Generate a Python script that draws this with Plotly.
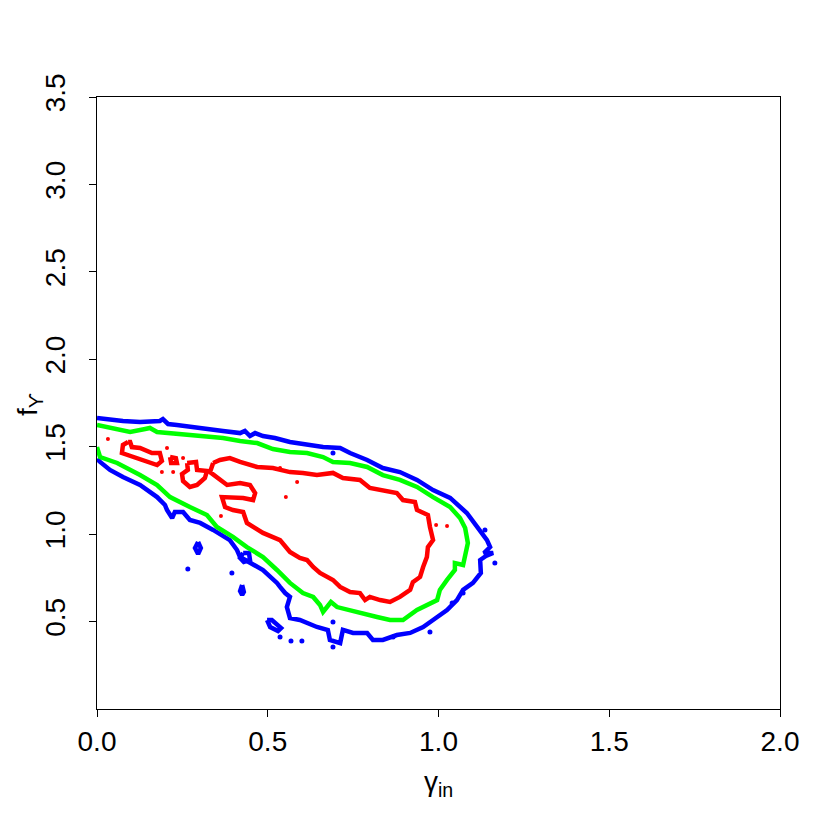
import plotly.graph_objects as go

# ---------------- data ----------------
x_ticks = [0.0, 0.5, 1.0, 1.5, 2.0]
x_tick_labels = ["0.0", "0.5", "1.0", "1.5", "2.0"]
y_ticks = [0.5, 1.0, 1.5, 2.0, 2.5, 3.0, 3.5]
y_tick_labels = ["0.5", "1.0", "1.5", "2.0", "2.5", "3.0", "3.5"]

# outer (blue) contour
blue_x = [0.000, 0.038, 0.076, 0.126, 0.155, 0.184, 0.193, 0.208, 0.234, 0.272, 0.322, 0.369,
          0.419, 0.433, 0.448, 0.463, 0.486, 0.521, 0.565, 0.609, 0.662, 0.712, 0.741, 0.791,
          0.837, 0.887, 0.937, 0.984, 1.034, 1.083, 1.113, 1.142, 1.151, 1.133, 1.160, 1.139,
          1.122, 1.124, 1.101, 1.072, 1.054, 1.025, 0.984, 0.955, 0.917, 0.878, 0.837, 0.808,
          0.791, 0.750, 0.720, 0.712, 0.682, 0.676, 0.644, 0.615, 0.594, 0.565, 0.556, 0.565,
          0.551, 0.536, 0.527, 0.486, 0.439, 0.419, 0.410, 0.389, 0.340, 0.302, 0.272, 0.252,
          0.228, 0.220, 0.205, 0.199, 0.176, 0.126, 0.076, 0.038, 0.009, 0.000]
blue_y = [1.664, 1.653, 1.647, 1.641, 1.641, 1.647, 1.658, 1.630, 1.624, 1.613, 1.601, 1.590,
          1.578, 1.590, 1.561, 1.578, 1.561, 1.550, 1.527, 1.516, 1.498, 1.493, 1.464, 1.424,
          1.378, 1.355, 1.310, 1.252, 1.207, 1.121, 1.041, 0.966, 0.926, 0.892, 0.892, 0.875,
          0.852, 0.778, 0.721, 0.681, 0.623, 0.566, 0.509, 0.469, 0.435, 0.423, 0.395, 0.395,
          0.435, 0.435, 0.452, 0.377, 0.395, 0.452, 0.469, 0.492, 0.509, 0.520, 0.583, 0.641,
          0.663, 0.698, 0.721, 0.795, 0.852, 0.869, 0.909, 0.966, 1.024, 1.064, 1.081, 1.127,
          1.127, 1.092, 1.138, 1.167, 1.212, 1.281, 1.327, 1.367, 1.413, 1.430]

# small blue islands (separated by None)
blue_isl_x = [0.296, 0.304, 0.296, 0.287, 0.296, None,
              0.428, 0.445, 0.448, 0.430, 0.419, 0.428, None,
              0.425, 0.430, 0.425, 0.419, 0.425, None,
              0.498, 0.512, 0.539, 0.530, 0.507, 0.498]
blue_isl_y = [0.955, 0.921, 0.886, 0.921, 0.955, None,
              0.892, 0.892, 0.852, 0.841, 0.864, 0.892, None,
              0.709, 0.669, 0.652, 0.675, 0.709, None,
              0.509, 0.509, 0.463, 0.446, 0.469, 0.509]
blue_dot_x = [0.266, 0.395, 0.536, 0.568, 0.600, 0.691, 1.136, 1.165, 1.072, 1.040, 0.975, 0.867, 0.691, 0.691]
blue_dot_y = [0.801, 0.778, 0.412, 0.389, 0.389, 1.464, 1.024, 0.835, 0.663, 0.606, 0.440, 0.412, 0.498, 0.355]

# middle (green) contour
green_x = [0.000, 0.038, 0.097, 0.141, 0.155, 0.176, 0.205, 0.243, 0.272, 0.322, 0.369, 0.419,
           0.469, 0.515, 0.565, 0.615, 0.662, 0.691, 0.741, 0.791, 0.837, 0.887, 0.937, 0.984,
           1.034, 1.063, 1.078, 1.086, 1.078, 1.072, 1.048, 1.048, 1.025, 1.004, 0.996, 0.966,
           0.937, 0.896, 0.858, 0.820, 0.770, 0.732, 0.703, 0.685, 0.662, 0.653, 0.633, 0.603,
           0.565, 0.527, 0.486, 0.439, 0.398, 0.351, 0.322, 0.272, 0.214, 0.176, 0.126, 0.059,
           0.009, 0.000]
green_y = [1.624, 1.607, 1.584, 1.601, 1.607, 1.584, 1.578, 1.573, 1.567, 1.556, 1.550, 1.533,
           1.521, 1.487, 1.470, 1.464, 1.441, 1.413, 1.407, 1.384, 1.338, 1.310, 1.270, 1.212,
           1.155, 1.092, 1.035, 0.949, 0.869, 0.824, 0.835, 0.795, 0.738, 0.681, 0.623, 0.595,
           0.566, 0.509, 0.509, 0.526, 0.549, 0.566, 0.583, 0.612, 0.555, 0.595, 0.641, 0.663,
           0.721, 0.795, 0.869, 0.926, 0.984, 1.041, 1.109, 1.155, 1.212, 1.281, 1.338, 1.407,
           1.441, 1.498]

# inner (red) contour
red_x = [0.340, 0.360, 0.389, 0.419, 0.469, 0.515, 0.565, 0.603, 0.644, 0.691, 0.720, 0.770,
         0.799, 0.837, 0.878, 0.896, 0.931, 0.937, 0.969, 0.975, 0.984, 0.969, 0.966, 0.955,
         0.946, 0.925, 0.917, 0.887, 0.858, 0.829, 0.799, 0.785, 0.770, 0.741, 0.712, 0.691,
         0.653, 0.633, 0.615, 0.594, 0.565, 0.536, 0.486, 0.439, 0.428, 0.398, 0.375, 0.366,
         0.389, 0.428, 0.457, 0.463, 0.448, 0.419, 0.381, 0.351, 0.331, 0.340]
red_y = [1.407, 1.424, 1.435, 1.413, 1.384, 1.378, 1.355, 1.350, 1.338, 1.350, 1.321, 1.310,
         1.264, 1.252, 1.235, 1.195, 1.184, 1.138, 1.109, 1.041, 0.966, 0.926, 0.869, 0.812,
         0.755, 0.726, 0.681, 0.641, 0.612, 0.623, 0.641, 0.623, 0.663, 0.669, 0.698, 0.738,
         0.778, 0.812, 0.852, 0.864, 0.898, 0.966, 1.007, 1.064, 1.127, 1.138, 1.155, 1.212,
         1.212, 1.207, 1.195, 1.235, 1.281, 1.292, 1.281, 1.321, 1.355, 1.407]

# small red islands (separated by None)
red_isl_x = [0.091, 0.076, 0.073, 0.117, 0.155, 0.176, 0.190, 0.184, 0.161, 0.126, 0.102, 0.097, 0.091, None,
             0.214, 0.231, 0.234, 0.217, 0.214, None,
             0.264, 0.290, 0.293, 0.322, 0.316, 0.293, 0.272, 0.252, 0.249, 0.266, 0.264]
red_isl_y = [1.527, 1.510, 1.464, 1.435, 1.407, 1.395, 1.418, 1.464, 1.464, 1.493, 1.498, 1.527, 1.527, None,
             1.441, 1.435, 1.407, 1.407, 1.441, None,
             1.407, 1.413, 1.367, 1.361, 1.321, 1.281, 1.270, 1.304, 1.344, 1.367, 1.407]
red_dot_x = [0.032, 0.205, 0.190, 0.223, 0.252, 0.536, 0.553, 0.363, 0.586, 0.993, 1.025]
red_dot_y = [1.544, 1.493, 1.355, 1.355, 1.435, 1.378, 1.212, 1.104, 1.298, 1.052, 1.047]

BLUE, GREEN, RED = "#0000FF", "#00FF00", "#FF0000"
LW = 4.5
FONT = "Liberation Sans, Arial, Helvetica, sans-serif"

fig = go.Figure()


def add_line(xs, ys, color):
    fig.add_trace(go.Scatter(x=xs, y=ys, mode="lines", line=dict(color=color, width=LW),
                             connectgaps=False, hoverinfo="skip", showlegend=False))


def add_dots(xs, ys, color, size):
    fig.add_trace(go.Scatter(x=xs, y=ys, mode="markers", marker=dict(color=color, size=size),
                             hoverinfo="skip", showlegend=False))


add_line(blue_x, blue_y, BLUE)
add_line(blue_isl_x, blue_isl_y, BLUE)
add_dots(blue_dot_x, blue_dot_y, BLUE, 5)
add_line(green_x, green_y, GREEN)
add_line(red_x, red_y, RED)
add_line(red_isl_x, red_isl_y, RED)
add_dots(red_dot_x, red_dot_y, RED, 4)

axis_common = dict(showgrid=False, zeroline=False, showline=True, mirror=True,
                   linecolor="black", linewidth=1, ticks="outside", ticklen=7,
                   tickwidth=1, tickcolor="black",
                   tickfont=dict(family=FONT, size=28, color="black"))

fig.update_xaxes(range=[0, 2], tickvals=x_ticks, ticktext=x_tick_labels,
                 ticklabelstandoff=0, **axis_common)
fig.update_yaxes(range=[0, 3.5], tickvals=y_ticks, ticktext=y_tick_labels,
                 tickangle=-90, ticklabelstandoff=13, **axis_common)

fig.add_annotation(text="γ<sub>in</sub>", xref="paper", yref="paper", x=0.5, y=0,
                   xanchor="center", yanchor="top", yshift=-55, showarrow=False,
                   font=dict(family=FONT, size=28, color="black"))
fig.add_annotation(text="f<sub>ϒ</sub>", xref="paper", yref="paper", x=0, y=0.5,
                   xanchor="center", yanchor="middle", xshift=-68, yshift=-2,
                   textangle=-90, showarrow=False,
                   font=dict(family=FONT, size=28, color="black"))

# page body has an 8px margin, so the figure is slightly smaller and margins are offset
fig.update_layout(width=822, height=822, margin=dict(l=89, r=50, t=89, b=121),
                  paper_bgcolor="white", plot_bgcolor="white")

fig.write_html("out.html")
